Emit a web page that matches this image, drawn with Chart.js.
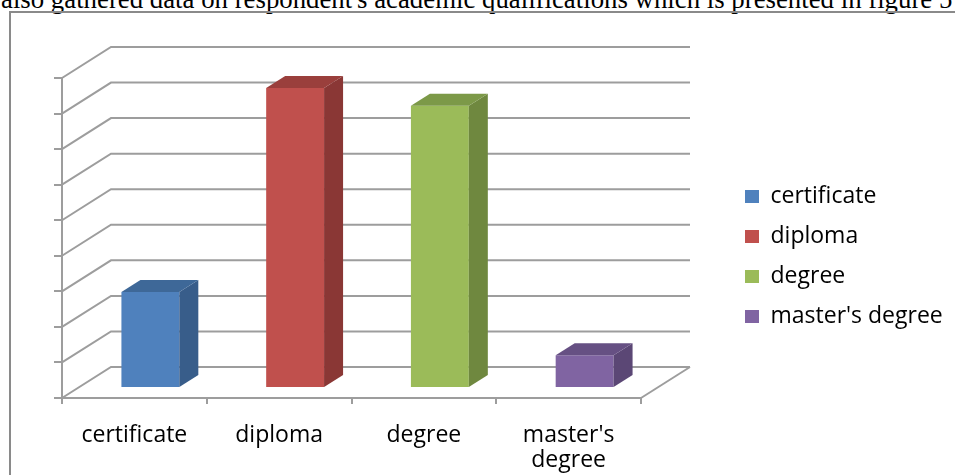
<!DOCTYPE html>
<html><head><meta charset="utf-8">
<script src="https://cdn.jsdelivr.net/npm/chart.js@4.4.1/dist/chart.umd.min.js"></script>
<style>
html,body{margin:0;padding:0;background:#fff;width:955px;height:475px;overflow:hidden;position:relative}
#cap{position:absolute;left:1px;top:-14px;font-family:"Liberation Serif","Times New Roman",serif;font-size:26.8px;line-height:27px;white-space:nowrap;color:#000}
#frame{position:absolute;left:9px;top:11px;width:1000px;height:600px;border:2px solid #8a8a8a;box-sizing:border-box}
#c{position:absolute;left:0;top:0}
</style></head><body>
<div id="cap">also gathered data on respondent's academic qualifications which is presented in figure 5</div>
<div id="frame"></div>
<canvas id="c" width="955" height="475"></canvas>
<script>
// ---- data ----
const categories = ['certificate', 'diploma', 'degree', "master's degree"];
const tickLabels = [['certificate'], ['diploma'], ['degree'], ["master's", 'degree']];
const values = [13.5, 42.2, 39.7, 4.6];
const yMin = 0, yMax = 45, yStep = 5;

// ---- styles ----
const frontColors = ['#4F81BD', '#C0504D', '#9BBB59', '#8064A2'];
const sideColors  = ['#385D8A', '#8A3735', '#6F883F', '#5B4775'];
const topColors   = ['#3E6898', '#9A3F3C', '#7C9948', '#665083'];
const GRID = '#9d9d9d';
const FONT = 'Open Sans';
const FSIZE = 23;
const LEG_PAD = 17, LEG_BOX = 14, LEG_W = 100;
const DEPTH = {dx: 49, dy: -31};
const BAR_OFF = {dx: 16, dy: -10};
const BAR_DEPTH = {dx: 19, dy: -12};
const PLOT_RIGHT = 641;
const spacerW = 955 - PLOT_RIGHT - LEG_W;

const threeD = {
  id: 'threeD',
  afterLayout(chart) {
    const lg = chart.legend;
    if (!lg || !lg.columnSizes || !lg.columnSizes[0]) return;
    const pad = lg.options.labels.padding;
    const colH = lg.columnSizes[0].height;
    lg.left = 745 - pad; lg.right = chart.width;
    lg.width = lg.right - lg.left;
    lg.top = 185 - pad; lg.bottom = 185 + colH;
    lg.height = lg.bottom - lg.top;
  },
  beforeDatasetsDraw(chart) {
    const {ctx, chartArea: a, scales: {y}} = chart;
    ctx.save();
    ctx.strokeStyle = GRID; ctx.lineWidth = 2;
    y.ticks.forEach(t => {
      const py = y.getPixelForValue(t.value);
      ctx.beginPath();
      ctx.moveTo(a.left, py);
      ctx.lineTo(a.left + DEPTH.dx, py + DEPTH.dy);
      ctx.lineTo(a.right + DEPTH.dx, py + DEPTH.dy);
      ctx.stroke();
    });
    const p0 = y.getPixelForValue(yMin);
    ctx.beginPath();
    ctx.moveTo(a.right, p0);
    ctx.lineTo(a.right + DEPTH.dx, p0 + DEPTH.dy);
    ctx.stroke();
    ctx.restore();
    ctx.save();
    ctx.translate(BAR_OFF.dx, BAR_OFF.dy);
  },
  afterDatasetsDraw(chart) {
    const ctx = chart.ctx;
    const meta = chart.getDatasetMeta(0);
    meta.data.forEach((el, i) => {
      const {x, y, base, width} = el.getProps(['x', 'y', 'base', 'width'], true);
      const l = x - width / 2, r = x + width / 2;
      ctx.fillStyle = sideColors[i];
      ctx.beginPath();
      ctx.moveTo(r, y); ctx.lineTo(r + BAR_DEPTH.dx, y + BAR_DEPTH.dy);
      ctx.lineTo(r + BAR_DEPTH.dx, base + BAR_DEPTH.dy); ctx.lineTo(r, base);
      ctx.closePath(); ctx.fill();
      ctx.fillStyle = topColors[i];
      ctx.beginPath();
      ctx.moveTo(l, y); ctx.lineTo(l + BAR_DEPTH.dx, y + BAR_DEPTH.dy);
      ctx.lineTo(r + BAR_DEPTH.dx, y + BAR_DEPTH.dy); ctx.lineTo(r, y);
      ctx.closePath(); ctx.fill();
    });
    ctx.restore();
  }
};

new Chart(document.getElementById('c'), {
  type: 'bar',
  data: {
    labels: tickLabels,
    datasets: [{
      data: values,
      backgroundColor: frontColors,
      borderWidth: 0,
      barPercentage: 0.4,
      categoryPercentage: 1.0,
      clip: false
    }]
  },
  options: {
    responsive: false,
    animation: false,
    devicePixelRatio: 1,
    layout: {padding: {top: 78, right: 0, bottom: 0, left: 0}},
    plugins: {
      tooltip: {enabled: false},
      legend: {
        position: 'right',
        maxWidth: LEG_W,
        labels: {
          color: '#000',
          font: {family: FONT, size: FSIZE},
          boxWidth: LEG_BOX,
          boxHeight: 13,
          padding: LEG_PAD,
          generateLabels: () => categories.map((c, i) => ({
            text: c, fillStyle: frontColors[i], strokeStyle: frontColors[i],
            lineWidth: 0, hidden: false, index: i
          }))
        }
      }
    },
    scales: {
      x: {
        offset: true,
        grid: {display: true, offset: true, drawOnChartArea: false, drawTicks: true, tickLength: 6, color: GRID, lineWidth: 2},
        border: {display: true, color: GRID, width: 2},
        ticks: {color: '#000', font: {family: FONT, size: FSIZE, lineHeight: 1.1}, padding: 19, maxRotation: 0, autoSkip: false},
        afterFit(s) { s.height = 77; }
      },
      y: {
        min: yMin, max: yMax,
        ticks: {stepSize: yStep, display: false},
        grid: {drawOnChartArea: false, drawTicks: true, tickLength: 8, color: GRID, lineWidth: 2},
        border: {display: true, color: GRID, width: 2},
        afterFit(s) { s.width = 62; }
      },
      yR: {
        position: 'right',
        display: true,
        grid: {display: false},
        border: {display: false},
        ticks: {display: false},
        afterFit(s) { s.width = spacerW; }
      }
    }
  },
  plugins: [threeD]
});
</script>
</body></html>
